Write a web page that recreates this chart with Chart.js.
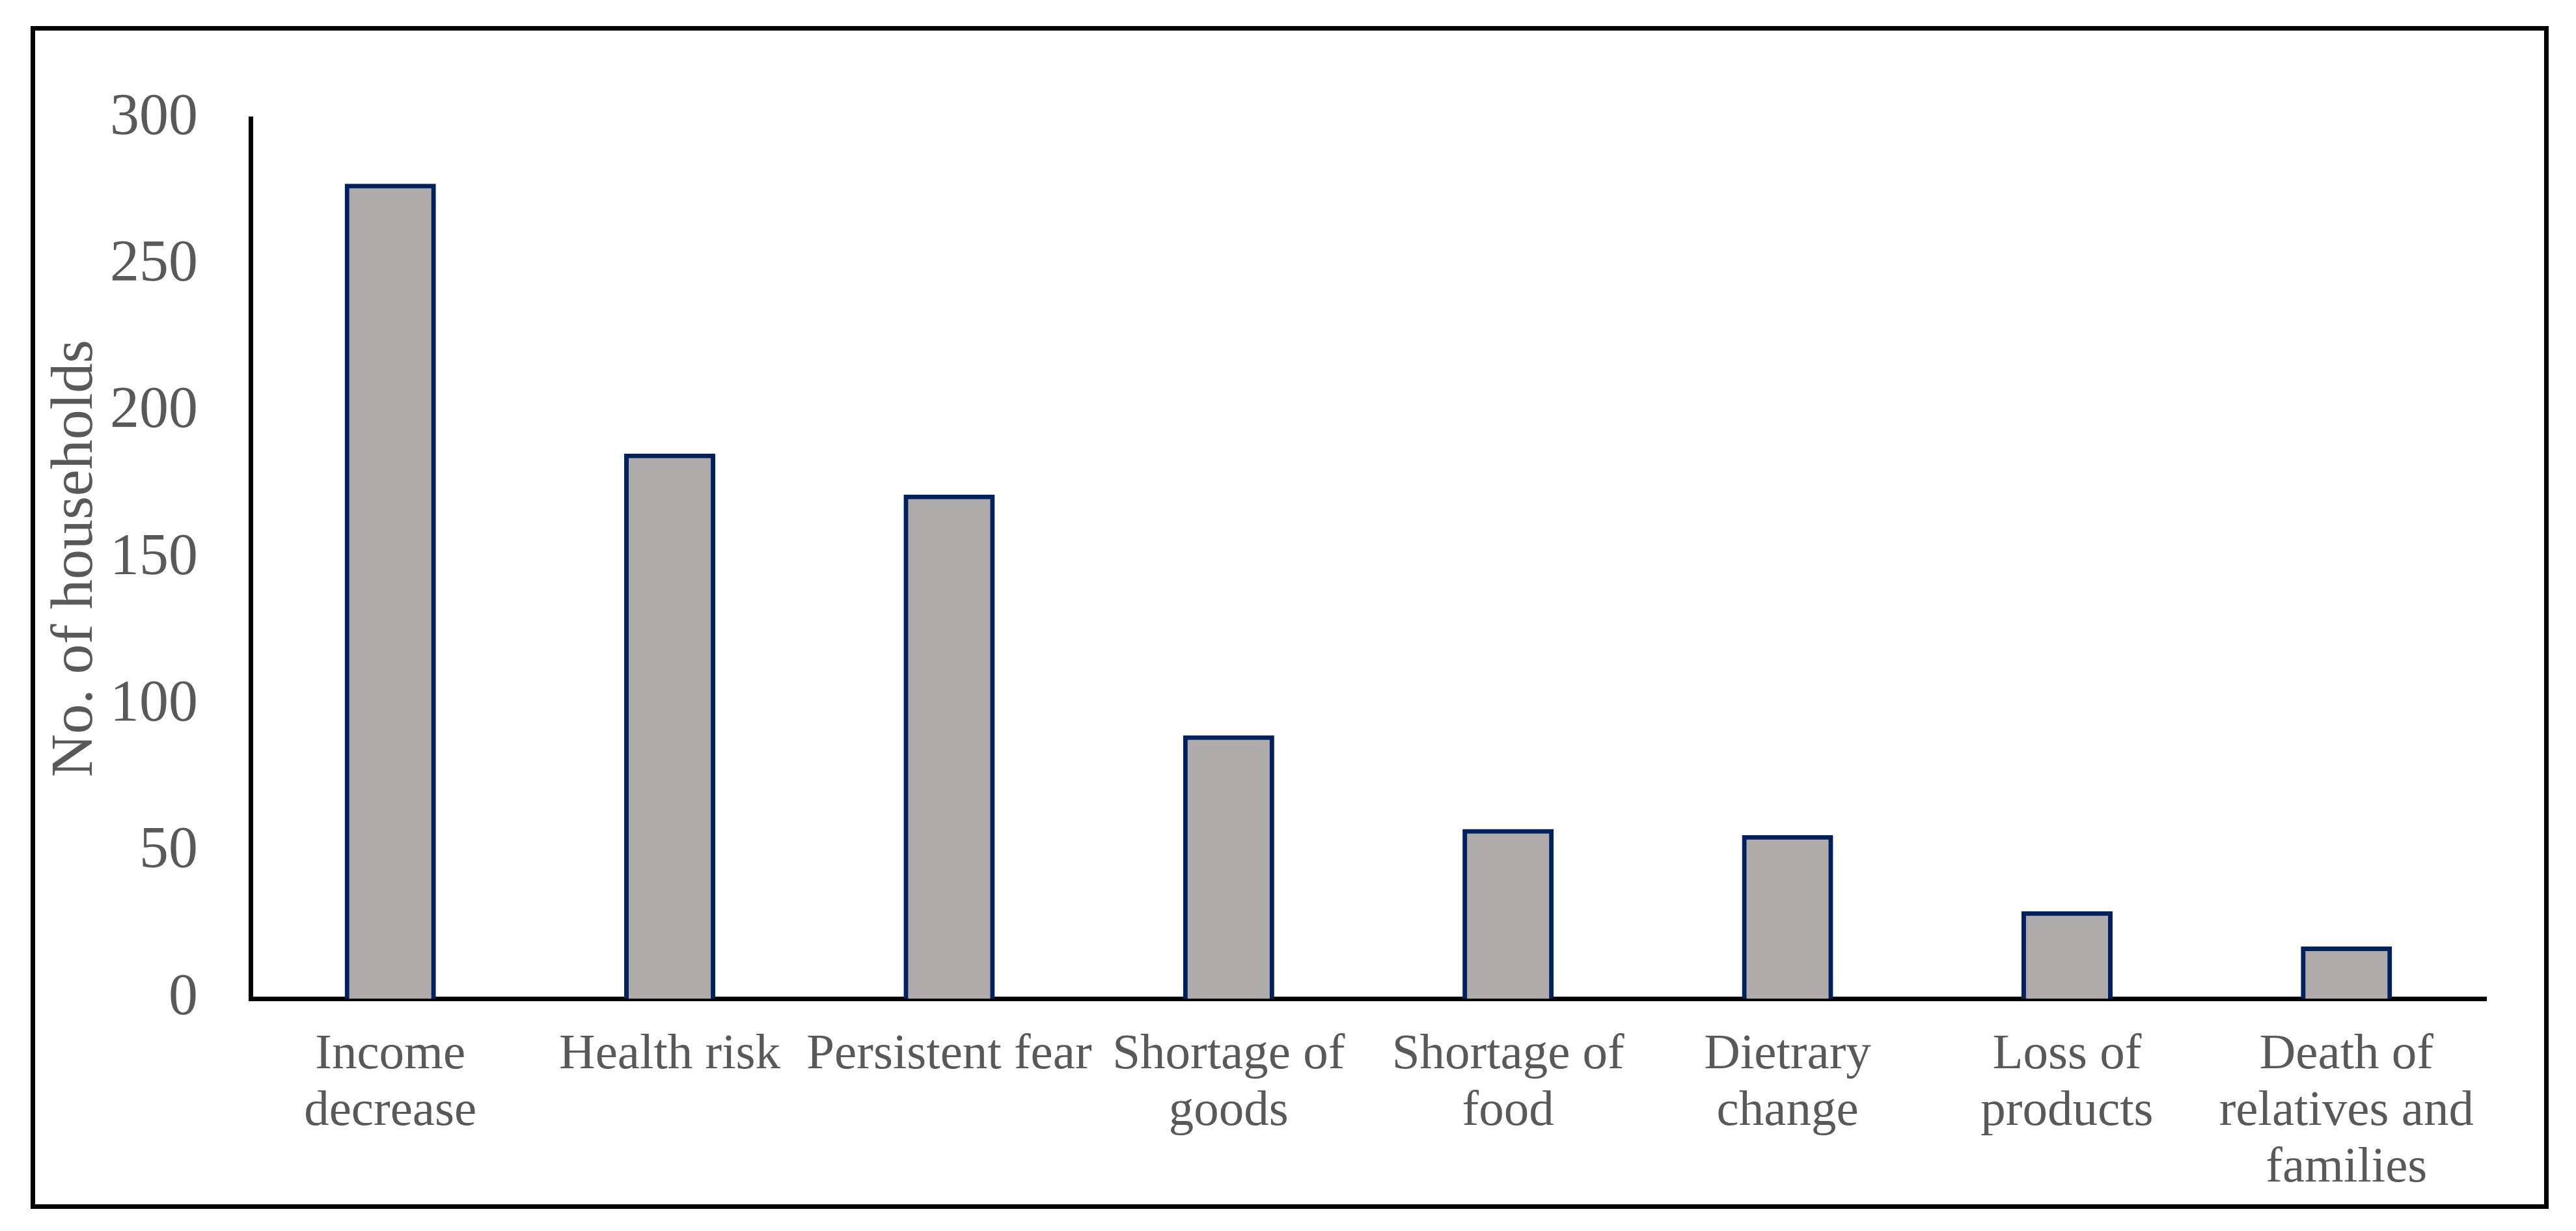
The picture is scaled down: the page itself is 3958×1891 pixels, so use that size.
<!DOCTYPE html>
<html>
<head>
<meta charset="utf-8">
<script src="https://cdn.jsdelivr.net/npm/chart.js@4"></script>
<style>
  body { margin: 0; background: #fff; }
  #frame {
    position: absolute; left: 47px; top: 40px;
    width: 3869px; height: 1817px;
    border: 7px solid #000; box-sizing: border-box;
  }
  #wrap { position: relative; width: 100%; height: 100%; }
</style>
</head>
<body>
<div id="frame"><div id="wrap"><canvas id="impactChart"></canvas></div></div>
<script>
// =====================
// Data
// =====================
const categorias = [
  ["Income", "decrease"],
  ["Health risk"],
  ["Persistent fear"],
  ["Shortage of", "goods"],
  ["Shortage of", "food"],
  ["Dietrary", "change"],
  ["Loss of", "products"],
  ["Death of", "relatives and", "families"],
];
const hogares = [277, 185, 171, 89, 57, 55, 29, 17];
const yMin = 0;
const yMax = 300;
const yStep = 50;

const fuente = "'Liberation Serif', 'Times New Roman', serif";
const gris = "#595959";

// =====================
// Chart
// =====================
const ctx = document.getElementById("impactChart");
new Chart(ctx, {
  type: "bar",
  data: {
    labels: categorias,
    datasets: [
      {
        label: "No. of households",
        data: hogares,
        backgroundColor: "#AFABAB",
        borderColor: "#002060",
        borderWidth: 7,
        inflateAmount: 3.5, // border centred on the bar edge, like Excel
        categoryPercentage: 0.31,
        barPercentage: 1,
      },
    ],
  },
  options: {
    responsive: true,
    maintainAspectRatio: false,
    animation: false,
    layout: { padding: { top: 120, right: 89, bottom: 0, left: 0 } },
    plugins: { legend: { display: false }, tooltip: { enabled: false } },
    scales: {
      x: {
        z: 1,
        grid: { display: false, drawTicks: false },
        border: { display: true, color: "#000", width: 7 },
        ticks: {
          color: gris,
          font: { family: fuente, size: 77, lineHeight: 1.13 },
          padding: 43,
          autoSkip: false,
          maxRotation: 0,
          minRotation: 0,
        },
        afterFit: (scale) => { scale.height = 316; },
      },
      y: {
        min: yMin,
        max: yMax,
        grid: { display: false, drawTicks: false },
        border: { display: true, color: "#000", width: 7 },
        ticks: {
          stepSize: yStep,
          color: gris,
          font: { family: fuente, size: 90 },
          padding: 81,
        },
        title: {
          display: true,
          text: "No. of households",
          color: gris,
          font: { family: fuente, size: 92, lineHeight: 1.2 },
          padding: { top: 8, bottom: 0 },
        },
        afterFit: (scale) => { scale.width = 331; },
      },
    },
  },
});
</script>
</body>
</html>
